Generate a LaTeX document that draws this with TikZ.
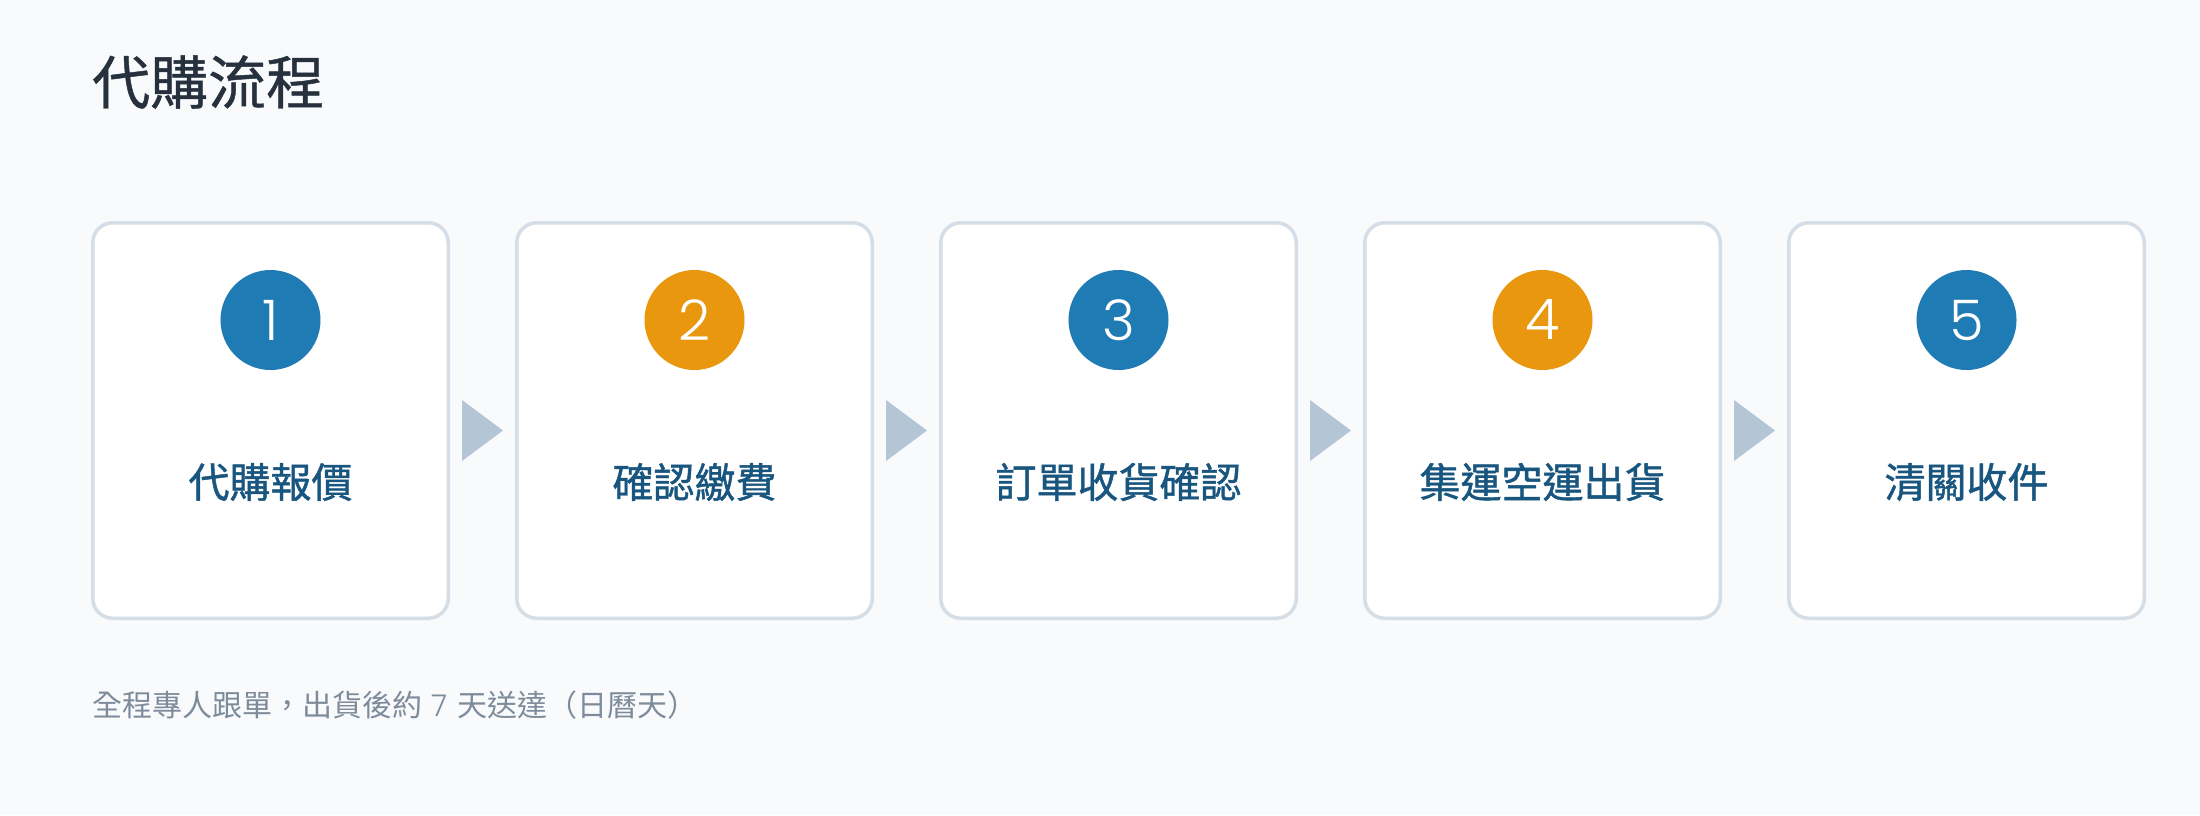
\documentclass[tikz,border=0pt]{standalone}
\usepackage{fontspec}
\setmainfont{Noto Sans CJK TC}
\newfontfamily\boldishfont{Noto Sans CJK TC}[FakeBold=1.1]
\newfontfamily\titlefont{Noto Sans CJK TC}[FakeBold=0.8]
\newfontfamily\digitfont{Poppins}[UprightFont={* Light}]
\definecolor{bgc}{HTML}{F8FAFC}
\definecolor{cardline}{HTML}{D5DEE6}
\definecolor{stepblue}{HTML}{1F7BB4}
\definecolor{steporange}{HTML}{E8970F}
\definecolor{labelc}{HTML}{19567F}
\definecolor{titlec}{HTML}{27313D}
\definecolor{notec}{HTML}{7D8B9B}
\definecolor{arrowc}{HTML}{B4C6D5}
\tikzset{
  card/.style={draw=cardline, line width=3.5pt, fill=white, rounded corners=20pt},
  badge/.style={circle, minimum size=100pt, inner sep=0pt, text=white, font=\digitfont\fontsize{56}{56}\selectfont},
  blue/.style={badge, fill=stepblue},
  orange/.style={badge, fill=steporange},
  steplabel/.style={text=labelc, inner sep=0pt, font=\boldishfont\fontsize{41}{41}\selectfont},
  chevron/.style={fill=arrowc, draw=none}
}
\begin{document}
\begin{tikzpicture}[x=1pt,y=-1pt]
\useasboundingbox (0,0) rectangle (2200,815);
\fill[bgc] (0,0) rectangle (2200,815);
\node[anchor=west, text=titlec, inner sep=0pt, font=\titlefont\fontsize{58}{58}\selectfont] (title) at (92,82) {代購流程};
% cards
\foreach \i/\col/\txt in {1/blue/代購報價, 2/orange/確認繳費, 3/blue/訂單收貨確認, 4/orange/集運空運出貨, 5/blue/清關收件}{
  \pgfmathsetmacro{\L}{92.75+424*(\i-1)}
  \pgfmathsetmacro{\R}{\L+355.5}
  \pgfmathsetmacro{\C}{(\L+\R)/2}
  \draw[card] (\L,222.75) rectangle (\R,618.25);
  \coordinate (card\i) at (\C,420);
  \node[\col] (num\i) at (\C,320) {\i};
  \node[steplabel] (lab\i) at (\C,482) {\txt};
}
% arrows
\foreach \i in {1,2,3,4}{
  \pgfmathsetmacro{\M}{92.75+424*(\i-1)+355.5+1.75+32.5}
  \coordinate (arr\i) at (\M,430.5);
  \fill[chevron] ([xshift=-20.5pt,yshift=-30.5pt]arr\i) -- ([xshift=20.5pt]arr\i) -- ([xshift=-20.5pt,yshift=30.5pt]arr\i) -- cycle;
}
\node[anchor=west, text=notec, inner sep=0pt, font=\fontsize{30}{30}\selectfont] (note) at (92,705) {全程專人跟單，出貨後約\hspace{0.3em}{\digitfont 7}\hspace{0.35em}天送達（日曆天）};
\end{tikzpicture}
\end{document}
